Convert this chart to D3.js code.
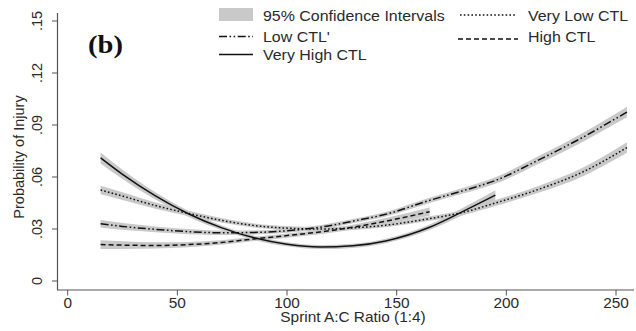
<!DOCTYPE html>
<html>
<head>
<meta charset="utf-8">
<script src="https://cdn.jsdelivr.net/npm/d3@7"></script>
<style>
  body { margin: 0; background: #fff; }
  svg { display: block; }
  text { font-family: "Liberation Sans", Arial, sans-serif; fill: #2a2a2a; }
</style>
</head>
<body>
<svg id="chart" width="636" height="331"></svg>
<script>
// ---------------- data ----------------
var ratio = [15, 25, 40, 55, 70, 85, 100, 115, 130, 145, 165, 180, 195, 215, 235, 255]

var veryLow  = [.0525, .0490, .0435, .0390, .0350, .0320, .0305, .0300, .0306, .0322, .0360, .0395, .0450, .0530, .0630, .0770]
var lowCTL   = [.0330, .0315, .0298, .0285, .0278, .0280, .0290, .0310, .0345, .0385, .0465, .0520, .0580, .0700, .0830, .0975]
var highCTL  = [.0210, .0207, .0205, .0210, .0222, .0243, .0262, .0283, .0310, .0345, .0400]
var veryHigh = [.0710, .0615, .0491, .0388, .0308, .0249, .0212, .0196, .0203, .0231, .0310, .0400, .0495]

// half width of the 95% CI at each point
var ciVeryLow  = [.0025, .0022, .0018, .0015, .0013, .0012, .0012, .0012, .0012, .0012, .0013, .0015, .0017, .0020, .0025, .0030]
var ciLow      = [.0022, .0020, .0017, .0015, .0013, .0012, .0012, .0012, .0012, .0013, .0015, .0017, .0019, .0022, .0026, .0031]
var ciHigh     = [.0025, .0022, .0018, .0015, .0013, .0012, .0012, .0013, .0015, .0018, .0024]
var ciVeryHigh = [.0032, .0027, .0021, .0017, .0014, .0012, .0012, .0012, .0012, .0013, .0016, .0021, .0028]

var xTicks = [0, 50, 100, 150, 200, 250]
var yTicks = [0, .03, .06, .09, .12, .15]
var yTickLabels = ["0", ".03", ".06", ".09", ".12", ".15"]

var series = [
  { name: "Very Low CTL", values: veryLow,  ci: ciVeryLow,  dash: "1.6,2.2" },
  { name: "Low CTL'",     values: lowCTL,   ci: ciLow,      dash: "8,2.5,1.6,2.5,1.6,2.5" },
  { name: "High CTL",     values: highCTL,  ci: ciHigh,     dash: "5,3" },
  { name: "Very High CTL", values: veryHigh, ci: ciVeryHigh, dash: null }
]

// ---------------- scales ----------------
var svg = d3.select("#chart")
var stretch = 1.1   // the figure's text is a bit wider than it is tall

var x = d3.scaleLinear().domain([0, 250]).range([67.7, 616])
var y = d3.scaleLinear().domain([0, .15]).range([281, 21])

function hText(g, px, py, str, anchor, size, extra) {
  var t = g.append("text")
    .attr("transform", "translate(" + px + "," + py + ") scale(" + stretch + ",1)")
    .attr("text-anchor", anchor || "start")
    .style("font-size", (size || 14.5) + "px")
    .text(str)
  if (extra) extra(t)
  return t
}

// ---------------- CI bands then lines ----------------
var area = d3.area()
  .x(d => x(d.x))
  .y0(d => y(d.v - d.c))
  .y1(d => y(d.v + d.c))
  .curve(d3.curveMonotoneX)

var line = d3.line()
  .x(d => x(d.x))
  .y(d => y(d.v))
  .curve(d3.curveMonotoneX)

series.forEach(function (s) {
  s.points = s.values.map((v, i) => ({ x: ratio[i], v: v, c: s.ci[i] }))
})

svg.append("g").selectAll("path")
  .data(series)
  .enter().append("path")
    .attr("d", d => area(d.points))
    .attr("fill", "#c9c9c9")

svg.append("g").selectAll("path")
  .data(series)
  .enter().append("path")
    .attr("d", d => line(d.points))
    .attr("fill", "none")
    .attr("stroke", "#111")
    .attr("stroke-width", 1.5)
    .attr("stroke-dasharray", d => d.dash)

// ---------------- axes ----------------
var axisColor = "#555"
var ax = svg.append("g")

ax.append("line")
  .attr("x1", 57.5).attr("x2", 57.5).attr("y1", 13).attr("y2", 290)
  .attr("stroke", axisColor).attr("stroke-width", 1.2)
ax.append("line")
  .attr("x1", 57).attr("x2", 634).attr("y1", 290).attr("y2", 290)
  .attr("stroke", axisColor).attr("stroke-width", 1.2)

ax.selectAll(".ytick").data(yTicks).enter().append("line")
  .attr("x1", 52).attr("x2", 57.5)
  .attr("y1", d => y(d)).attr("y2", d => y(d))
  .attr("stroke", axisColor)

ax.selectAll(".ylab").data(yTicks).enter().append("text")
  .attr("transform", d => "translate(37," + y(d) + ") rotate(-90)")
  .attr("text-anchor", "middle")
  .attr("dy", "0.35em")
  .style("font-size", "14.5px")
  .text((d, i) => yTickLabels[i])

ax.selectAll(".xtick").data(xTicks).enter().append("line")
  .attr("x1", d => x(d)).attr("x2", d => x(d))
  .attr("y1", 290).attr("y2", 295.5)
  .attr("stroke", axisColor)

xTicks.forEach(function (d) {
  hText(ax, x(d), 308, String(d), "middle", 14)
})

hText(ax, 353, 322, "Sprint A:C Ratio (1:4)", "middle", 14)

ax.append("text")
  .attr("transform", "translate(19,157) rotate(-90)")
  .attr("text-anchor", "middle")
  .attr("dy", "0.35em")
  .style("font-size", "14.5px")
  .text("Probability of Injury")

// ---------------- panel label ----------------
hText(svg, 88, 53, "(b)", "start", 26, function (t) {
  t.style("font-family", "'Liberation Serif', 'Times New Roman', serif")
   .style("font-weight", "bold")
   .style("fill", "#111")
})

// ---------------- legend ----------------
var lg = svg.append("g")

lg.append("rect")
  .attr("x", 219).attr("y", 8).attr("width", 34).attr("height", 13)
  .attr("fill", "#c9c9c9")
hText(lg, 263, 20.5, "95% Confidence Intervals")

var legendLines = [
  { s: series[1], x1: 219, x2: 253, y: 36.5, tx: 263, ty: 41.5 },
  { s: series[3], x1: 219, x2: 253, y: 54.5, tx: 263, ty: 59.5 },
  { s: series[0], x1: 460, x2: 517, y: 15,   tx: 528, ty: 20.5 },
  { s: series[2], x1: 458, x2: 518, y: 39,   tx: 528, ty: 41.5 }
]

legendLines.forEach(function (l) {
  lg.append("line")
    .attr("x1", l.x1).attr("x2", l.x2).attr("y1", l.y).attr("y2", l.y)
    .attr("stroke", "#111").attr("stroke-width", 1.5)
    .attr("stroke-dasharray", l.s.dash)
  hText(lg, l.tx, l.ty, l.s.name)
})
</script>
</body>
</html>
